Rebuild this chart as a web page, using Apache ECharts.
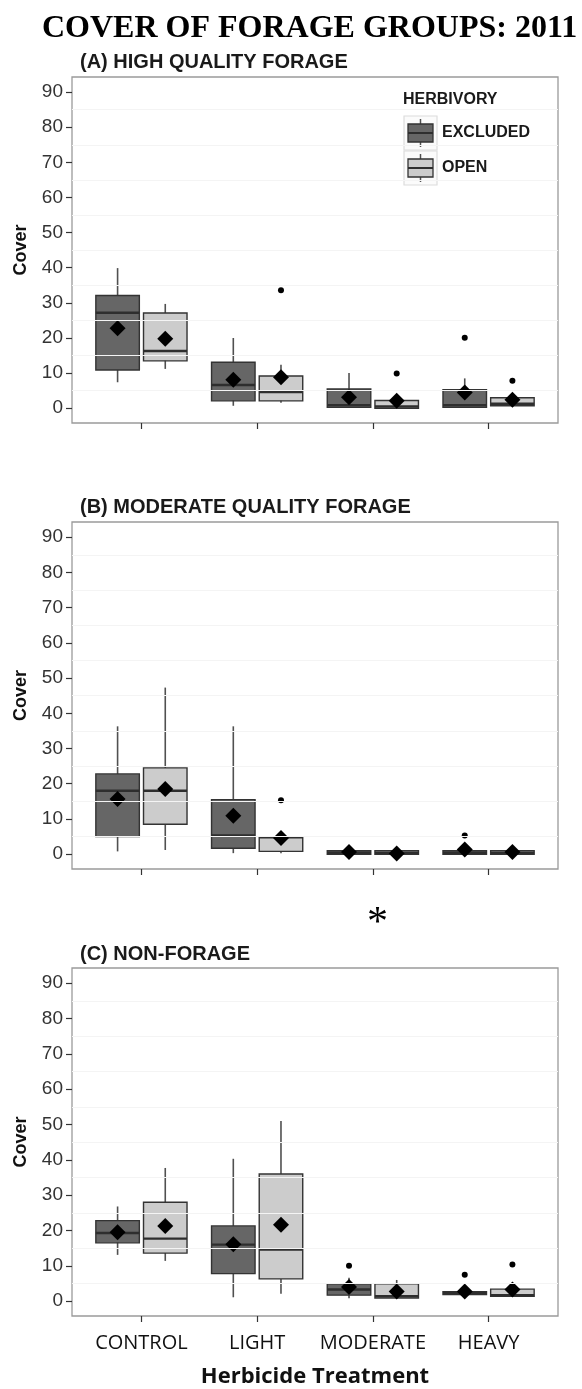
<!DOCTYPE html>
<html>
<head>
<meta charset="utf-8">
<script src="https://cdn.jsdelivr.net/npm/echarts@6/dist/echarts.min.js"></script>
<style>
  html, body { margin: 0; padding: 0; background: #ffffff; }
  #chart { width: 582px; height: 1389px; }
</style>
</head>
<body>
<div id="chart"></div>
<script>
// Herbicide treatments on the x axis and herbivory groups dodged within each
const treatments = ['CONTROL', 'LIGHT', 'MODERATE', 'HEAVY'];
const groups = ['EXCLUDED', 'OPEN'];
const yTicks = [0, 10, 20, 30, 40, 50, 60, 70, 80, 90];
const minorGrid = [5, 15, 25, 35, 45, 55, 65, 75, 85];

// Box statistics per treatment: [lower whisker, Q1, median, Q3, upper whisker]
// (A) High quality forage
const highExcluded = [[7.4, 10.9, 27.2, 32.1, 39.9], [0.7, 2.1, 6.6, 13.1, 20.0], [0.2, 0.3, 0.9, 5.5, 10.0], [0.2, 0.3, 0.9, 5.3, 8.5]];
const highOpen = [[11.2, 13.5, 16.3, 27.1, 29.7], [1.6, 2.1, 4.6, 9.2, 12.4], [0, 0, 0.5, 2.2, 2.6], [0.7, 0.7, 1.3, 3.0, 3.6]];
const highMeanExcluded = [22.8, 8.1, 3.1, 4.5];
const highMeanOpen = [19.8, 8.8, 2.1, 2.4];
const highOutExcluded = [[4, 20.1]];
const highOutOpen = [[2, 33.6], [3, 9.9], [4, 7.8]];

// (B) Moderate quality forage
const modExcluded = [[0.8, 5.0, 18.0, 22.8, 36.3], [0.3, 1.7, 5.3, 15.5, 36.3], [0, 0, 0.4, 1.0, 1.0], [0, 0, 0.4, 1.0, 2.6]];
const modOpen = [[1.2, 8.5, 18.0, 24.5, 47.3], [0.3, 0.8, 4.8, 5.0, 5.0], [0, 0, 0.4, 1.0, 1.0], [0, 0, 0.4, 1.0, 1.0]];
const modMeanExcluded = [15.7, 10.9, 0.6, 1.3];
const modMeanOpen = [18.5, 4.6, 0.2, 0.6];
const modOutExcluded = [[4, 5.3]];
const modOutOpen = [[2, 15.3]];

// (C) Non-forage
const nonExcluded = [[13.1, 16.5, 19.3, 22.8, 26.8], [1.1, 7.8, 16.0, 21.3, 40.3], [0.8, 1.7, 3.3, 4.9, 6.6], [1.4, 1.9, 2.3, 2.7, 4.1]];
const nonOpen = [[11.4, 13.6, 17.7, 28.0, 37.7], [2.1, 6.3, 14.6, 36.0, 51.0], [0.9, 0.9, 1.4, 4.9, 6.0], [1.4, 1.4, 1.7, 3.4, 4.7]];
const nonMeanExcluded = [19.5, 16.1, 4.0, 2.7];
const nonMeanOpen = [21.3, 21.6, 2.7, 3.3];
const nonOutExcluded = [[3, 10.0], [4, 7.5]];
const nonOutOpen = [[4, 10.4]];

const panels = [
  { title: '(A) HIGH QUALITY FORAGE', top: 77, bottom: 966, titleTop: 52,
    box: [highExcluded, highOpen], mean: [highMeanExcluded, highMeanOpen], out: [highOutExcluded, highOutOpen] },
  { title: '(B) MODERATE QUALITY FORAGE', top: 522, bottom: 520, titleTop: 497,
    box: [modExcluded, modOpen], mean: [modMeanExcluded, modMeanOpen], out: [modOutExcluded, modOutOpen] },
  { title: '(C) NON-FORAGE', top: 968, bottom: 73, titleTop: 944,
    box: [nonExcluded, nonOpen], mean: [nonMeanExcluded, nonMeanOpen], out: [nonOutExcluded, nonOutOpen] }
];

const FILL = ['#666666', '#cccccc'];
const EDGE = '#333333';
const DODGE = [-0.206, 0.206];
const HALF_WIDTH = 0.188;
const SANS = '"Liberation Sans", Arial, sans-serif';
const OPEN_SANS = '"Open Sans", sans-serif';

function boxRenderer(g) {
  return function (params, api) {
    const x = api.value(0) + DODGE[g];
    const hw = api.size([HALF_WIDTH, 0])[0];
    const pLow = api.coord([x, api.value(1)]);
    const pQ1 = api.coord([x, api.value(2)]);
    const pMed = api.coord([x, api.value(3)]);
    const pQ3 = api.coord([x, api.value(4)]);
    const pHigh = api.coord([x, api.value(5)]);
    return {
      type: 'group',
      children: [
        { type: 'line', shape: { x1: pLow[0], y1: pLow[1], x2: pHigh[0], y2: pHigh[1] },
          style: { stroke: '#505050', lineWidth: 1.6 } },
        { type: 'rect', shape: { x: pQ3[0] - hw, y: pQ3[1], width: 2 * hw, height: Math.max(pQ1[1] - pQ3[1], 1) },
          style: { fill: FILL[g], stroke: EDGE, lineWidth: 1.4 } },
        { type: 'line', shape: { x1: pMed[0] - hw, y1: pMed[1], x2: pMed[0] + hw, y2: pMed[1] },
          style: { stroke: '#2e2e2e', lineWidth: 2.4 } }
      ]
    };
  };
}

const grid = [], xAxis = [], yAxis = [], series = [], title = [];

title.push({
  text: 'COVER OF FORAGE GROUPS: 2011', left: 42, top: 13, padding: 0,
  textStyle: { fontFamily: '"Liberation Serif", "Times New Roman", serif', fontWeight: 'bold', fontSize: 32, color: '#000' }
});
title.push({
  text: '*', left: 367, top: 903, padding: 0,
  textStyle: { fontFamily: '"Liberation Serif", "Times New Roman", serif', fontWeight: 'normal', fontSize: 42, color: '#000' }
});

panels.forEach(function (p, i) {
  grid.push({ left: 72, right: 24, top: p.top, bottom: p.bottom, show: true,
    borderColor: '#9a9a9a', borderWidth: 1.3, backgroundColor: '#ffffff' });
  title.push({ text: p.title, left: 80, top: p.titleTop, padding: 0,
    textStyle: { fontFamily: SANS, fontWeight: 'bold', fontSize: 20, color: '#1a1a1a' } });
  const last = i === panels.length - 1;
  xAxis.push({
    type: 'value', gridIndex: i, min: 0.4, max: 4.6,
    axisLine: { show: false, onZero: false },
    splitLine: { show: false },
    axisTick: { show: true, customValues: [1, 2, 3, 4], length: 6, lineStyle: { color: '#333333', width: 1.2 } },
    axisLabel: { show: last, customValues: [1, 2, 3, 4], margin: 17,
      formatter: function (v) { return treatments[Math.round(v) - 1]; },
      fontFamily: OPEN_SANS, fontSize: 20, color: '#111111' },
    name: last ? 'Herbicide Treatment' : '',
    nameLocation: 'middle', nameGap: 50,
    nameTextStyle: { fontFamily: OPEN_SANS, fontWeight: 'bold', fontSize: 22, color: '#111111' }
  });
  yAxis.push({
    type: 'value', gridIndex: i, min: -4.2, max: 94.3,
    axisLine: { show: false, onZero: false },
    splitLine: { show: false },
    axisTick: { show: true, customValues: yTicks, length: 6, lineStyle: { color: '#333333', width: 1.2 } },
    axisLabel: { customValues: yTicks, margin: 9, fontFamily: SANS, fontSize: 19, color: '#333333' },
    name: 'Cover', nameLocation: 'middle', nameRotate: 90, nameGap: 42,
    nameTextStyle: { fontFamily: SANS, fontWeight: 'bold', fontSize: 18, color: '#111111' }
  });

  for (let g = 0; g < 2; g++) {
    series.push({
      type: 'custom', name: groups[g], xAxisIndex: i, yAxisIndex: i,
      renderItem: boxRenderer(g),
      encode: { x: 0, y: [1, 2, 3, 4, 5] },
      data: p.box[g].map(function (b, k) { return [k + 1].concat(b); }),
      silent: true, z: 2
    });
    series.push({
      type: 'scatter', xAxisIndex: i, yAxisIndex: i, symbol: 'circle', symbolSize: 6,
      itemStyle: { color: '#000000', opacity: 1 }, silent: true, z: 3,
      data: p.out[g].map(function (o) { return [o[0] + DODGE[g], o[1]]; })
    });
    series.push({
      type: 'scatter', xAxisIndex: i, yAxisIndex: i, symbol: 'diamond', symbolSize: [16, 16],
      itemStyle: { color: '#000000', opacity: 1 }, silent: true, z: 4,
      data: p.mean[g].map(function (m, k) { return [k + 1 + DODGE[g], m]; })
    });
  }
  // faint minor grid lines
  series.push({
    type: 'line', xAxisIndex: i, yAxisIndex: i, data: [], silent: true, z: 1,
    markLine: { silent: true, symbol: ['none', 'none'], label: { show: false },
      lineStyle: { color: '#f4f4f4', width: 1.2, type: 'solid' },
      animation: false,
      data: minorGrid.map(function (v) { return { yAxis: v }; }) }
  });
});

// Legend for the herbivory groups, placed inside panel A
const legend = [
  { type: 'text', left: 403, top: 92, style: { text: 'HERBIVORY', font: 'bold 16px ' + SANS, fill: '#1a1a1a' } }
];
groups.forEach(function (name, g) {
  const y0 = 116 + g * 35;
  legend.push({ type: 'rect', shape: { x: 404, y: y0, width: 33, height: 34 },
    style: { fill: '#fbfbfb', stroke: '#dcdcdc', lineWidth: 1.2 } });
  legend.push({ type: 'line', shape: { x1: 420.5, y1: y0 + 3, x2: 420.5, y2: y0 + 31 },
    style: { stroke: '#505050', lineWidth: 1.5 } });
  legend.push({ type: 'rect', shape: { x: 408, y: y0 + 8, width: 25, height: 18 },
    style: { fill: FILL[g], stroke: EDGE, lineWidth: 1.3 } });
  legend.push({ type: 'line', shape: { x1: 408, y1: y0 + 17, x2: 433, y2: y0 + 17 },
    style: { stroke: '#2e2e2e', lineWidth: 2 } });
  legend.push({ type: 'text', left: 442, top: y0 + 9, style: { text: name, font: 'bold 16px ' + SANS, fill: '#1a1a1a' } });
});

const chart = echarts.init(document.getElementById('chart'), null, { renderer: 'canvas' });
chart.setOption({
  animation: false,
  backgroundColor: '#ffffff',
  title: title,
  grid: grid,
  xAxis: xAxis,
  yAxis: yAxis,
  series: series,
  graphic: legend
});
</script>
</body>
</html>
